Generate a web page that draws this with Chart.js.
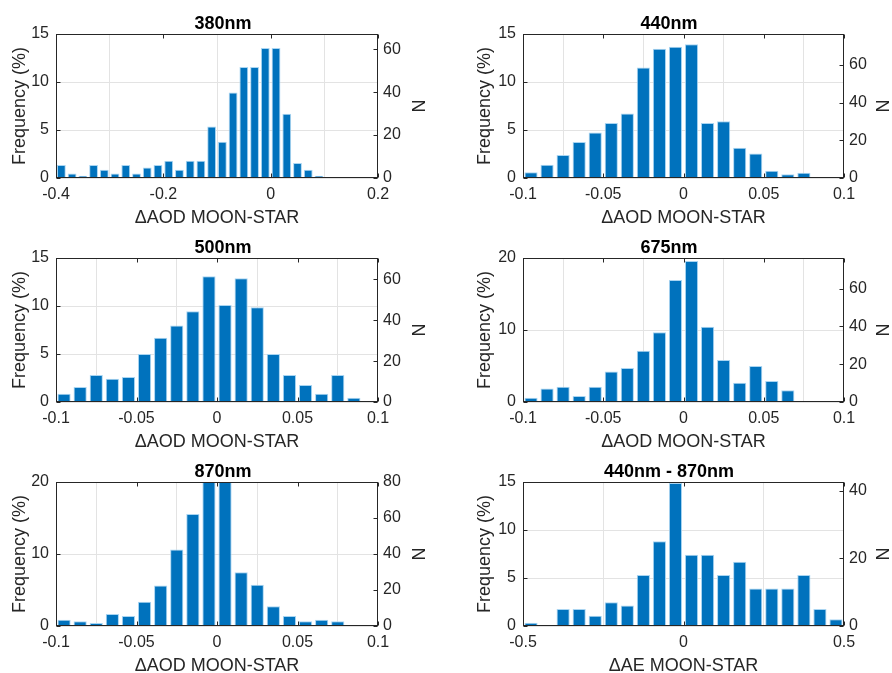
<!DOCTYPE html>
<html>
<head>
<meta charset="utf-8">
<script src="https://cdn.jsdelivr.net/npm/chart.js@4.4.1/dist/chart.umd.min.js"></script>
<style>
  html, body { margin: 0; padding: 0; background: #fff; }
  #wrap { position: relative; width: 892px; height: 673px; overflow: hidden; }
  canvas { position: absolute; }
</style>
</head>
<body>
<div id="wrap"></div>
<script>
'use strict';

// bin centres
var bins380 = [-0.39, -0.37, -0.35, -0.33, -0.31, -0.29, -0.27, -0.25, -0.23, -0.21,
               -0.19, -0.17, -0.15, -0.13, -0.11, -0.09, -0.07, -0.05, -0.03, -0.01,
               0.01, 0.03, 0.05, 0.07, 0.09];
var binsAOD = [-0.095, -0.085, -0.075, -0.065, -0.055, -0.045, -0.035, -0.025, -0.015, -0.005,
               0.005, 0.015, 0.025, 0.035, 0.045, 0.055, 0.065, 0.075, 0.085, 0.095];
var binsAE = [-0.475, -0.425, -0.375, -0.325, -0.275, -0.225, -0.175, -0.125, -0.075, -0.025,
              0.025, 0.075, 0.125, 0.175, 0.225, 0.275, 0.325, 0.375, 0.425, 0.475];

// frequency (%) per bin
var freq380 = [1.35, 0.48, 0.24, 1.35, 0.87, 0.48, 1.35, 0.48, 1.1, 1.35,
               1.8, 0.87, 1.8, 1.8, 5.37, 3.78, 8.9, 11.57, 11.57, 13.54,
               13.54, 6.68, 1.56, 0.87, 0.24];
var freq440 = [0.59, 1.39, 2.39, 3.74, 4.75, 5.72, 6.72, 11.5, 13.47, 13.68,
               13.92, 5.72, 5.92, 3.15, 2.56, 0.76, 0.38, 0.55, 0, 0];
var freq500 = [0.87, 1.56, 2.8, 2.42, 2.6, 4.99, 6.68, 7.97, 9.46, 13.09,
               10.11, 12.89, 9.87, 4.99, 2.8, 1.77, 0.87, 2.8, 0.45, 0];
var freq675 = [0.6, 1.89, 2.12, 0.83, 2.12, 4.25, 4.71, 7.11, 9.7, 16.95,
               19.58, 10.44, 5.82, 2.68, 4.99, 2.91, 1.62, 0, 0, 0];
var freq870 = [0.88, 0.65, 0.42, 1.66, 1.39, 3.37, 5.63, 10.62, 15.57, 20,
               20, 7.48, 5.73, 2.73, 1.39, 0.65, 0.88, 0.65, 0, 0];
var freqAE = [0.35, 0, 1.78, 1.78, 1.08, 2.48, 2.13, 5.3, 8.82, 14.9,
              7.43, 7.43, 5.3, 6.7, 3.9, 3.9, 3.9, 5.3, 1.78, 0.7];

// total number of samples per panel (sets the right-hand N axis)
var totalN = [447, 509, 470, 381, 400, 284];

var titles = ['380nm', '440nm', '500nm', '675nm', '870nm', '440nm - 870nm'];
var xLabels = ['\u0394AOD MOON-STAR', '\u0394AOD MOON-STAR', '\u0394AOD MOON-STAR',
               '\u0394AOD MOON-STAR', '\u0394AOD MOON-STAR', '\u0394AE MOON-STAR'];
var xRanges = [[-0.4, 0.2, 0.2], [-0.1, 0.1, 0.05], [-0.1, 0.1, 0.05],
               [-0.1, 0.1, 0.05], [-0.1, 0.1, 0.05], [-0.5, 0.5, 0.5]];
var yRanges = [[15, 5], [15, 5], [15, 5], [20, 10], [20, 10], [15, 5]];

var FONT = '"Liberation Sans", Arial, Helvetica, sans-serif';
var INK = '#262626';
var BAR = '#0072BD';

// box around the plot area with small inward tick marks (matlab look)
var boxPlugin = {
    id: 'box',
    afterDraw: function(chart) {
        var ctx = chart.ctx, a = chart.chartArea, s = chart.scales;
        var L = Math.round(a.left) + 0.5, R = Math.round(a.right) - 0.5;
        var T = Math.round(a.top) + 0.5, B = Math.round(a.bottom) - 0.5;
        ctx.save();
        ctx.strokeStyle = INK;
        ctx.lineWidth = 1;
        ctx.strokeRect(L, T, R - L, B - T);
        ctx.beginPath();
        s.x.ticks.forEach(function(t) {
            var px = Math.round(s.x.getPixelForValue(t.value)) + 0.5;
            ctx.moveTo(px, B); ctx.lineTo(px, B - 4);
            ctx.moveTo(px, T); ctx.lineTo(px, T + 4);
        });
        s.y.ticks.forEach(function(t) {
            var py = Math.round(s.y.getPixelForValue(t.value)) + 0.5;
            ctx.moveTo(L, py); ctx.lineTo(L + 4, py);
        });
        s.y1.ticks.forEach(function(t) {
            var py = Math.round(s.y1.getPixelForValue(t.value)) + 0.5;
            ctx.moveTo(R, py); ctx.lineTo(R - 4, py);
        });
        ctx.stroke();
        ctx.restore();
    }
};

function fmt(v) {
    var r = Math.round(v * 1000) / 1000;
    return String(r);
}

function makePanel(i, bins, freq) {
    var col = i % 2, row = Math.floor(i / 2);
    var leftW = col === 0 ? 56 : 77;
    var rightW = col === 0 ? 68 : 48;
    var canvas = document.createElement('canvas');
    canvas.width = 446;
    canvas.height = 240;
    canvas.style.left = (col * 446) + 'px';
    canvas.style.top = (row * 224) + 'px';
    document.getElementById('wrap').appendChild(canvas);

    var pts = bins.map(function(b, k) { return {x: b, y: freq[k]}; });
    var yMax = yRanges[i][0];
    var nMax = yMax * totalN[i] / 100;

    return new Chart(canvas.getContext('2d'), {
        type: 'bar',
        data: {
            datasets: [{
                data: pts,
                backgroundColor: BAR,
                borderColor: '#a9d5f2',
                borderWidth: {top: 1, left: 1, right: 1, bottom: 0},
                borderSkipped: false,
                barPercentage: 0.82,
                categoryPercentage: 1.0,
                yAxisID: 'y'
            }]
        },
        options: {
            responsive: false,
            animation: false,
            devicePixelRatio: 1,
            layout: {padding: 0},
            plugins: {
                legend: {display: false},
                tooltip: {enabled: false},
                title: {
                    display: true,
                    text: titles[i],
                    color: '#000',
                    font: {family: FONT, size: 18, weight: 'bold', lineHeight: 1},
                    padding: {top: 15, bottom: 1}
                }
            },
            scales: {
                x: {
                    type: 'linear',
                    offset: false,
                    min: xRanges[i][0],
                    max: xRanges[i][1],
                    border: {display: false},
                    grid: {color: '#e3e3e3', drawTicks: false},
                    ticks: {
                        stepSize: xRanges[i][2],
                        color: INK,
                        padding: 7,
                        maxRotation: 0,
                        font: {family: FONT, size: 16},
                        callback: fmt
                    },
                    title: {
                        display: true,
                        text: xLabels[i],
                        color: INK,
                        font: {family: FONT, size: 18},
                        padding: {top: 0, bottom: 11}
                    },
                    afterFit: function(s) { s.height = 62; }
                },
                y: {
                    position: 'left',
                    min: 0,
                    max: yMax,
                    border: {display: false},
                    grid: {color: '#e3e3e3', drawTicks: false},
                    ticks: {
                        stepSize: yRanges[i][1],
                        color: INK,
                        padding: 7,
                        font: {family: FONT, size: 16},
                        callback: fmt
                    },
                    title: {
                        display: true,
                        text: 'Frequency (%)',
                        color: INK,
                        font: {family: FONT, size: 18},
                        padding: {top: col === 0 ? 9 : 28, bottom: 0}
                    },
                    afterFit: function(s) { s.width = leftW; }
                },
                y1: {
                    position: 'right',
                    min: 0,
                    max: nMax,
                    border: {display: false},
                    grid: {display: false, drawTicks: false},
                    ticks: {
                        color: INK,
                        padding: 5,
                        autoSkip: false,
                        font: {family: FONT, size: 16}
                    },
                    afterBuildTicks: function(s) {
                        var t = [];
                        for (var v = 0; v <= nMax; v += 20) t.push({value: v});
                        s.ticks = t;
                    },
                    title: {
                        display: true,
                        text: 'N',
                        color: INK,
                        font: {family: FONT, size: 18},
                        padding: {top: col === 0 ? 18 : 0, bottom: 0}
                    },
                    afterFit: function(s) { s.width = rightW; }
                }
            }
        },
        plugins: [boxPlugin]
    });
}

makePanel(0, bins380, freq380);
makePanel(1, binsAOD, freq440);
makePanel(2, binsAOD, freq500);
makePanel(3, binsAOD, freq675);
makePanel(4, binsAOD, freq870);
makePanel(5, binsAE, freqAE);
</script>
</body>
</html>
